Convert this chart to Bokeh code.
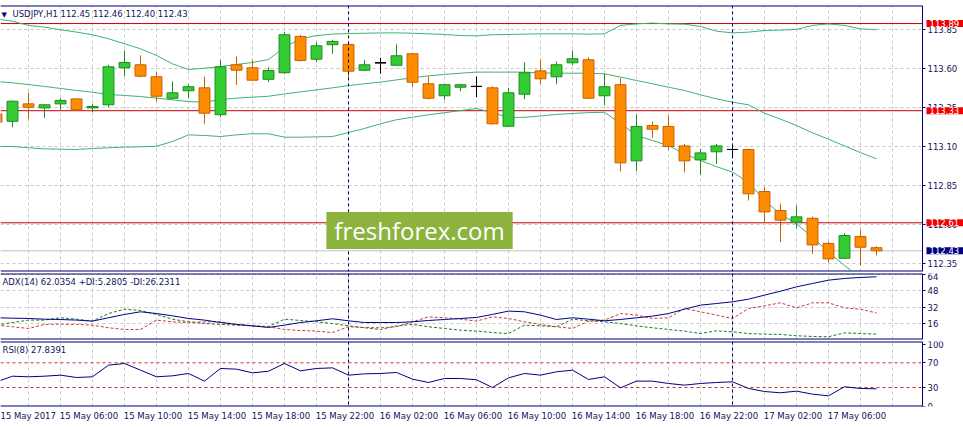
from bokeh.plotting import figure
from bokeh.layouts import column
from bokeh.models import ColumnDataSource, Range1d, FixedTicker, Label, Span, BoxAnnotation
from bokeh.embed import file_html
from bokeh.resources import INLINE

# USDJPY H1 bars, bar position = hours since 15 May 2017 00:00
bar_hour = list(range(2, 58))
open_ = [113.310, 113.262, 113.374, 113.348, 113.374, 113.406, 113.348, 113.368, 113.606, 113.625,
         113.548, 113.410, 113.458, 113.477, 113.304, 113.625, 113.606, 113.532, 113.574, 113.807,
         113.661, 113.754, 113.756, 113.590, 113.638, 113.622, 113.696, 113.503, 113.426, 113.481,
         113.486, 113.477, 113.230, 113.436, 113.586, 113.548, 113.638, 113.657, 113.426, 113.497,
         113.008, 113.235, 113.229, 113.104, 113.014, 113.066, 113.081, 113.081, 112.811, 112.689,
         112.614, 112.639, 112.477, 112.382, 112.522, 112.45]
high = [113.330, 113.396, 113.445, 113.374, 113.410, 113.408, 113.374, 113.625, 113.717, 113.685,
        113.578, 113.518, 113.498, 113.548, 113.657, 113.678, 113.657, 113.610, 113.835, 113.818,
        113.770, 113.786, 113.770, 113.657, 113.670, 113.756, 113.700, 113.550, 113.503, 113.503,
        113.550, 113.486, 113.477, 113.640, 113.659, 113.646, 113.717, 113.674, 113.567, 113.539,
        113.304, 113.261, 113.299, 113.117, 113.085, 113.117, 113.117, 113.085, 112.838, 112.732,
        112.721, 112.650, 112.489, 112.543, 112.567, 112.46]
low = [113.220, 113.224, 113.278, 113.284, 113.336, 113.327, 113.320, 113.352, 113.552, 113.545,
       113.391, 113.402, 113.410, 113.246, 113.288, 113.496, 113.524, 113.513, 113.567, 113.646,
       113.642, 113.696, 113.529, 113.584, 113.567, 113.622, 113.481, 113.402, 113.400, 113.455,
       113.417, 113.241, 113.228, 113.404, 113.500, 113.500, 113.625, 113.404, 113.366, 112.941,
       112.941, 113.156, 113.079, 112.935, 112.918, 112.989, 113.027, 112.753, 112.610, 112.485,
       112.575, 112.410, 112.356, 112.378, 112.335, 112.40]
close = [113.256, 113.391, 113.352, 113.368, 113.396, 113.336, 113.357, 113.612, 113.640, 113.552,
         113.423, 113.445, 113.484, 113.314, 113.612, 113.590, 113.526, 113.588, 113.818, 113.653,
         113.747, 113.775, 113.584, 113.625, 113.638, 113.683, 113.513, 113.410, 113.497, 113.497,
         113.486, 113.246, 113.445, 113.574, 113.535, 113.625, 113.664, 113.410, 113.484, 112.995,
         113.229, 113.211, 113.100, 113.008, 113.059, 113.104, 113.081, 112.796, 112.680, 112.627,
         112.648, 112.468, 112.378, 112.528, 112.453, 112.43]

# Bollinger bands
bb_upper = [113.920, 113.905, 113.878, 113.867, 113.850, 113.835, 113.818, 113.792, 113.760, 113.728,
            113.685, 113.631, 113.595, 113.603, 113.614, 113.627, 113.640, 113.659, 113.738, 113.792,
            113.813, 113.822, 113.826, 113.828, 113.830, 113.830, 113.828, 113.824, 113.820, 113.813,
            113.811, 113.818, 113.820, 113.822, 113.824, 113.824, 113.824, 113.822, 113.824, 113.878,
            113.888, 113.893, 113.888, 113.886, 113.871, 113.841, 113.830, 113.835, 113.845, 113.848,
            113.852, 113.878, 113.888, 113.878, 113.856, 113.850]
bb_mid = [113.518, 113.509, 113.498, 113.486, 113.473, 113.460, 113.449, 113.434, 113.428, 113.421,
          113.411, 113.400, 113.389, 113.385, 113.402, 113.411, 113.417, 113.423, 113.438, 113.451,
          113.464, 113.477, 113.492, 113.503, 113.514, 113.528, 113.541, 113.554, 113.563, 113.571,
          113.578, 113.578, 113.578, 113.578, 113.573, 113.571, 113.571, 113.571, 113.567, 113.546,
          113.524, 113.503, 113.481, 113.460, 113.432, 113.406, 113.385, 113.368, 113.314, 113.276,
          113.235, 113.188, 113.147, 113.104, 113.061, 113.021]
bb_lower = [113.100, 113.100, 113.092, 113.085, 113.083, 113.081, 113.087, 113.092, 113.096, 113.098,
            113.102, 113.132, 113.175, 113.171, 113.164, 113.175, 113.182, 113.182, 113.160, 113.160,
            113.162, 113.164, 113.190, 113.216, 113.246, 113.272, 113.288, 113.304, 113.317, 113.331,
            113.344, 113.318, 113.286, 113.288, 113.296, 113.306, 113.312, 113.318, 113.320, 113.248,
            113.171, 113.139, 113.106, 113.053, 113.010, 112.971, 112.935, 112.871, 112.753, 112.667,
            112.603, 112.517, 112.421, 112.335, 112.260, 112.174]

# ADX(14)
adx = [21.5, 21.1, 20.8, 20.1, 19.8, 19.2, 18.2, 21.5, 24.8, 27.4, 25.7, 23.4, 20.8, 19.2, 16.8,
       14.9, 13.5, 11.9, 14.2, 16.8, 18.5, 20.5, 18.5, 16.8, 16.8, 16.8, 17.5, 18.8, 19.8, 20.8,
       21.8, 24.8, 28.1, 27.4, 24.1, 19.8, 21.5, 20.1, 18.5, 19.8, 21.5, 23.1, 25.7, 30.0, 34.0,
       35.6, 37.3, 39.9, 43.9, 47.8, 52.1, 55.4, 58.7, 60.4, 61.4, 62.0354]
plus_di = [14.2, 16.8, 19.2, 19.2, 21.5, 20.1, 18.2, 25.7, 30.0, 28.7, 24.8, 20.1, 17.5, 15.8, 14.9,
           14.2, 13.5, 12.9, 20.1, 18.8, 17.5, 15.8, 13.5, 11.6, 9.9, 13.5, 14.9, 12.6, 10.9, 9.2,
           8.3, 6.9, 5.9, 14.2, 13.5, 12.6, 20.1, 18.5, 17.5, 15.8, 13.5, 11.6, 9.9, 8.3, 5.9,
           8.6, 7.6, 5.9, 5.3, 5.0, 3.7, 3.0, 2.7, 6.6, 5.9, 5.2805]
minus_di = [14.2, 12.6, 10.9, 14.9, 15.2, 14.9, 14.2, 11.6, 9.9, 9.9, 19.2, 17.5, 16.8, 17.5, 17.5,
            14.9, 13.5, 12.6, 9.9, 8.9, 8.3, 6.9, 12.6, 11.9, 11.6, 12.6, 17.5, 22.4, 21.5, 20.1,
            18.2, 22.4, 20.8, 17.5, 14.9, 12.6, 10.9, 18.2, 19.2, 25.7, 24.1, 20.8, 21.5, 30.7, 27.4,
            24.1, 20.8, 30.7, 33.3, 36.3, 31.3, 36.3, 36.3, 31.3, 30.0, 26.2311]

# RSI(8)
rsi = [39.2, 48.3, 47.3, 48.3, 50.0, 46.2, 47.3, 66.2, 68.9, 58.1, 47.3, 48.9, 52.7, 40.3, 60.8,
       59.7, 53.7, 56.4, 68.9, 57.0, 60.8, 61.8, 50.0, 52.1, 52.7, 54.3, 43.5, 38.1, 44.6, 44.6,
       42.5, 30.0, 45.6, 52.7, 50.0, 55.4, 58.1, 43.0, 47.3, 29.5, 40.3, 40.3, 36.5, 33.8, 36.5,
       38.1, 39.2, 28.4, 23.5, 21.4, 24.1, 19.2, 16.5, 31.1, 28.4, 27.8391]

levels = [113.89, 113.33, 112.61]
price_ticks = [112.35, 112.60, 112.85, 113.10, 113.35, 113.60, 113.85]
adx_ticks = [16, 32, 48, 64]
rsi_ticks = [0, 30, 70, 100]
rsi_levels = [30, 70]
x_tick_hours = [2, 6, 10, 14, 18, 22, 26, 30, 34, 38, 42, 46, 50, 54]
x_tick_labels = ["15 May 2017", "15 May 06:00", "15 May 10:00", "15 May 14:00", "15 May 18:00",
                 "15 May 22:00", "16 May 02:00", "16 May 06:00", "16 May 10:00", "16 May 14:00",
                 "16 May 18:00", "16 May 22:00", "17 May 02:00", "17 May 06:00"]

FONT = "DejaVu Sans"
FS = "8.5px"
NAVY = "#000070"
TXT = "#14145a"
W = 963          # whole page width
CHART_W = 922    # width of the candle area, the price scale sits to its right
x_start, x_edge = 2.25, 59.875
x_range = Range1d(x_start, x_start + (x_edge - x_start) * W / CHART_W)
grid_hours = [h for h in range(0, 60, 2)]
day_starts = [h for h in bar_hour if h % 24 == 0]


def panel(height, y_range, top, bottom, ticks, xaxis=None):
    p = figure(width=W, height=height, x_range=x_range, y_range=y_range,
               output_backend="svg", toolbar_location=None,
               x_axis_location=xaxis, y_axis_location="right",
               min_border_left=0, min_border_right=0,
               min_border_top=top, min_border_bottom=bottom)
    p.outline_line_color = None
    p.background_fill_color = "white"
    p.border_fill_color = "white"
    for ax in p.axis:
        ax.major_label_text_font = FONT
        ax.major_label_text_font_size = FS
        ax.major_label_text_color = TXT
        ax.major_tick_line_color = NAVY
        ax.minor_tick_line_color = None
    yax = p.yaxis[0]
    yax.fixed_location = x_edge          # scale drawn at the right edge of the chart area
    yax.ticker = FixedTicker(ticks=ticks)
    yax.axis_line_color = NAVY
    yax.major_tick_out = 3
    yax.major_tick_in = 0
    yax.major_label_standoff = 2
    p.xgrid.ticker = FixedTicker(ticks=grid_hours)
    p.xgrid.grid_line_color = "#c8c8c8"
    p.xgrid.grid_line_dash = "3 3"
    p.ygrid.grid_line_color = "#c8c8c8"
    p.ygrid.grid_line_dash = "3 3"
    for d in day_starts:
        p.add_layout(Span(location=d, dimension="height", line_color=NAVY,
                          line_dash="3 3", line_width=1))
    return p


def finish(p):
    # blank the strip under the price scale, then draw the top and bottom border of the chart area
    p.add_layout(BoxAnnotation(left=x_edge, fill_color="white", fill_alpha=1,
                               line_color=None, level="underlay"))
    yr = p.y_range
    p.segment(x0=[x_start, x_start], y0=[yr.end, yr.start], x1=[x_edge, x_edge],
              y1=[yr.end, yr.start], line_color=NAVY, line_width=2)


def header(p, text, x_off=2):
    p.add_layout(Label(x=x_start, y=p.y_range.end, x_offset=x_off, y_offset=-3,
                       text=text, text_font=FONT, text_font_size=FS, text_color=TXT,
                       text_baseline="top", text_align="left"))


# ---- price panel
main = panel(272, Range1d(112.297, 114.006), 5, 1, price_ticks)
main.yaxis[0].major_label_overrides = {t: f"{t:.2f}" for t in price_ticks}

for lvl in levels:
    main.add_layout(Span(location=lvl, dimension="width", line_color="#c80000",
                         line_width=1, level="underlay"))
main.add_layout(Span(location=close[-1], dimension="width", line_color="#c0c0c0",
                     line_width=1, level="underlay"))
finish(main)

for band in (bb_upper, bb_mid, bb_lower):
    main.line(bar_hour, band, line_color="#3cb371", line_width=1)

fill, edge, top_, bot_ = [], [], [], []
for o, c in zip(open_, close):
    if c > o:
        fill.append("#32cd32"); edge.append("#1f8a1f")
    elif c < o:
        fill.append("#ff8c00"); edge.append("#c85f00")
    else:
        fill.append("#000000"); edge.append("#000000")
    top_.append(max(o, c)); bot_.append(min(o, c))
src = ColumnDataSource(dict(x=bar_hour, h=high, l=low, top=top_, bottom=bot_, fill=fill, edge=edge))
main.segment("x", "h", "x", "l", source=src, line_color="edge", line_width=1)
main.vbar(x="x", top="top", bottom="bottom", width=0.68, source=src,
          fill_color="fill", line_color="edge", line_width=1)
doji = [i for i, (o, c) in enumerate(zip(open_, close)) if o == c]
main.segment([bar_hour[i] - 0.34 for i in doji], [open_[i] for i in doji],
             [bar_hour[i] + 0.34 for i in doji], [close[i] for i in doji],
             line_color="black", line_width=1)

main.add_layout(Label(x=x_start, y=main.y_range.end, x_offset=1, y_offset=-5,
                      text="\u25bc", text_font=FONT, text_font_size="7px", text_color=NAVY,
                      text_baseline="top", text_align="left"))
header(main, f"USDJPY,H1  {open_[-1]:.2f} {high[-1]:.2f} {low[-1]:.2f} {close[-1]:.2f}", 12)

main.add_layout(Label(x=28.44, y=112.56, text="freshforex.com", text_font="Open Sans",
                      text_font_size="24px", text_color="white", text_align="center",
                      text_baseline="middle", background_fill_color="#8db33f",
                      padding=dict(left=8, right=8, top=2, bottom=2)))

# price tags on the scale, drawn above the scale labels
for lvl, bg in [(levels[0], "#f00000"), (levels[1], "#f00000"), (levels[2], "#f00000"),
                (close[-1], "#000080")]:
    main.add_layout(Label(x=x_edge, y=lvl, x_offset=4, text=f"{lvl:.2f}",
                          text_font=FONT, text_font_size=FS, text_color="white",
                          text_align="left", text_baseline="middle",
                          background_fill_color=bg, level="overlay",
                          padding=dict(left=3, right=4, top=0, bottom=0)))

# ---- ADX panel
adx_p = panel(68, Range1d(0.0, 65.3), 1, 1, adx_ticks)
finish(adx_p)
adx_p.line(bar_hour, plus_di, line_color="#1f7a1f", line_dash="3 2", line_width=1)
adx_p.line(bar_hour, minus_di, line_color="#c83c3c", line_dash="3 2", line_width=1)
adx_p.line(bar_hour, adx, line_color="#00008b", line_width=1)
header(adx_p, f"ADX(14) {adx[-1]:.4f} +DI:{plus_di[-1]:.4f} -DI:{minus_di[-1]:.4f}")

# ---- RSI panel
rsi_p = panel(87, Range1d(-0.8, 104.5), 1, 21, rsi_ticks, xaxis="below")
rsi_p.ygrid.grid_line_color = None
for lv in rsi_levels:
    rsi_p.add_layout(Span(location=lv, dimension="width", line_color="#c83232",
                          line_dash="3 3", line_width=1, level="underlay"))
finish(rsi_p)
rsi_p.line(bar_hour, rsi, line_color="#000080", line_width=1)
header(rsi_p, f"RSI(8) {rsi[-1]:.4f}")

# MT4 writes the time labels starting at the bar, so centre them half a label to the right
shift = 1.78
xax = rsi_p.xaxis[0]
xax.ticker = FixedTicker(ticks=[h + shift for h in x_tick_hours])
xax.major_label_overrides = {h + shift: lab for h, lab in zip(x_tick_hours, x_tick_labels)}
xax.major_tick_line_color = None
xax.major_tick_out = 0
xax.major_label_standoff = 4
xax.axis_line_color = None

layout = column(main, adx_p, rsi_p)
open("out.html", "w").write(file_html(layout, INLINE, "USDJPY H1"))
